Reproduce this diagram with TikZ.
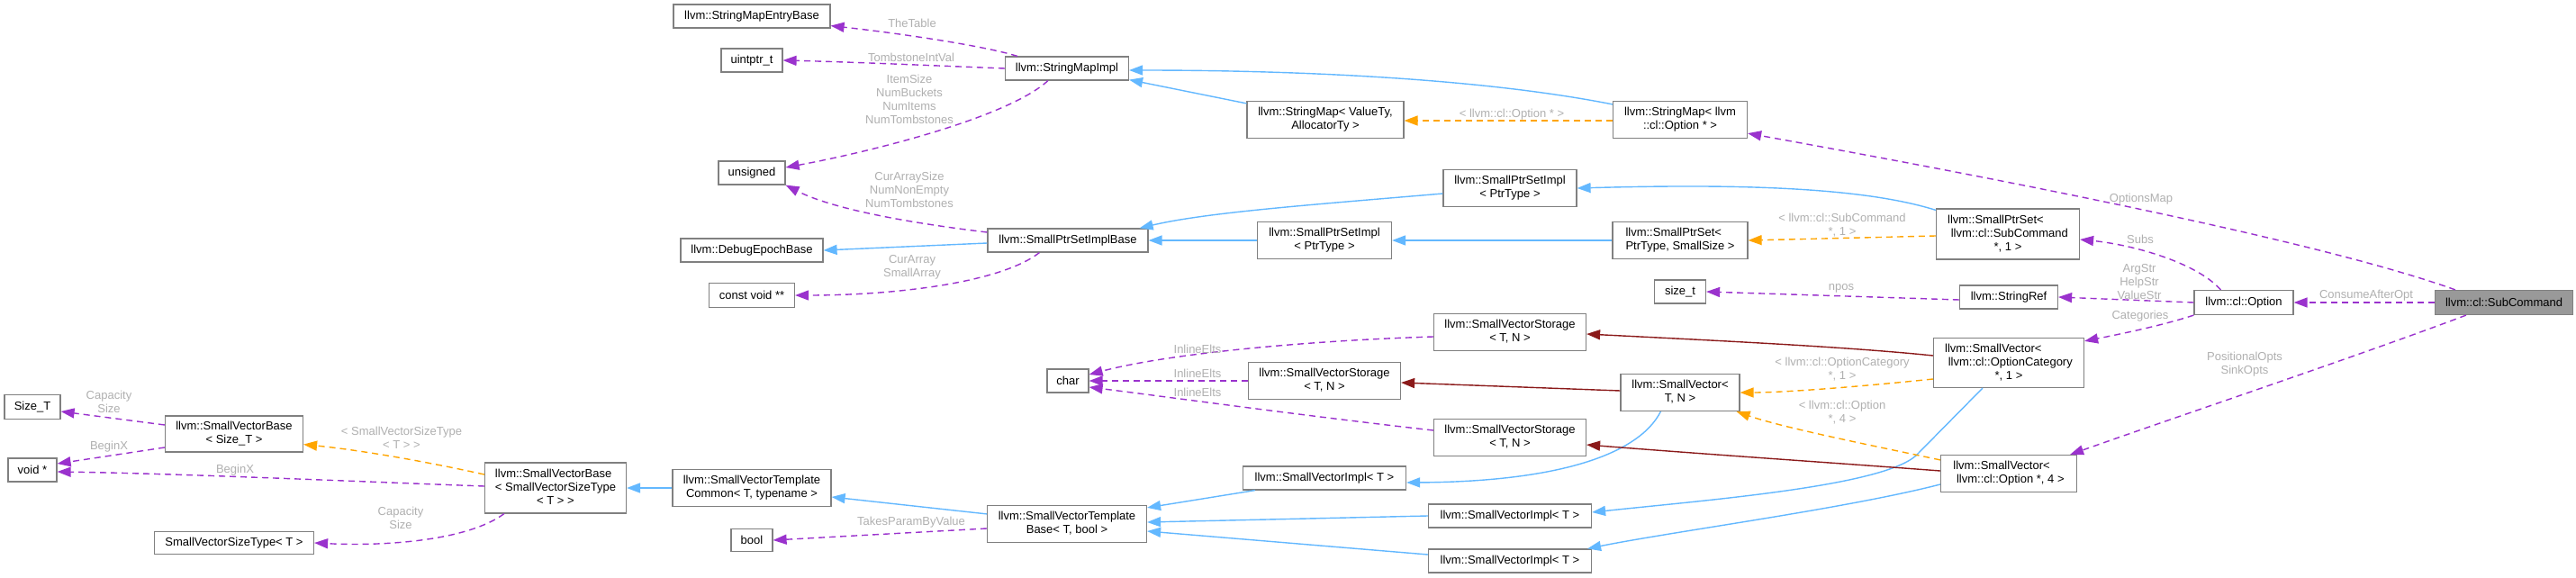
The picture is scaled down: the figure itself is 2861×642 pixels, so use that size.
\documentclass[tikz,border=0pt]{standalone}
\usepackage{fontspec}
\setmainfont{Liberation Sans}
\usetikzlibrary{arrows.meta,calc}
\definecolor{usec}{HTML}{9A32CD}
\definecolor{inhc}{HTML}{63B8FF}
\definecolor{tmplc}{HTML}{FFA500}
\definecolor{protc}{HTML}{8B1A1A}
\definecolor{labc}{HTML}{B0B0B0}
\definecolor{bordc}{HTML}{808080}
\definecolor{rootc}{HTML}{999999}
\newcommand\twol[2]{\begin{tabular}{@{}l@{}}#1\\\multicolumn{1}{@{}c@{}}{#2}\end{tabular}}
\newcommand\threel[3]{\begin{tabular}{@{}l@{}}#1\\#2\\\multicolumn{1}{@{}c@{}}{#3}\end{tabular}}
\tikzset{
  box/.style={draw=bordc, fill=white, line width=1.2pt, inner sep=0pt, font=\fontsize{13}{15}\selectfont, align=center},
  lab/.style={text=labc, font=\fontsize{13}{15}\selectfont, align=center, inner sep=0pt},
  tipx/.style={-{Triangle[length=15pt,width=11pt]}},
  use/.style={draw=usec, line width=1.4pt, dash pattern=on 7pt off 5pt, tipx},
  inh/.style={draw=inhc, line width=1.4pt, tipx},
  tmpl/.style={draw=tmplc, line width=1.4pt, dash pattern=on 7pt off 5pt, tipx},
  prot/.style={draw=protc, line width=1.4pt, tipx},
}
\begin{document}
\begin{tikzpicture}[x=1pt, y=-1pt]
\fill[white] (0,0) rectangle (2861,642);
\useasboundingbox (0,0) rectangle (2861,642);
% nodes
\node[box, minimum width=174pt, minimum height=26pt] (smeb) at (835,18) {llvm::StringMapEntryBase};
\node[box, minimum width=68pt, minimum height=26pt] (uptr) at (835,67) {uintptr\_t};
\node[box, minimum width=74pt, minimum height=26pt] (uns) at (835,192) {unsigned};
\node[box, minimum width=158pt, minimum height=26pt] (deb) at (835,278) {llvm::DebugEpochBase};
\node[box, minimum width=95pt, minimum height=27pt] (cvp) at (835,328) {const void **};
\node[box, minimum width=176pt, minimum height=41pt] (svtc) at (835,542) {\twol{llvm::SmallVectorTemplate}{Common< T, typename >}};
\node[box, minimum width=46pt, minimum height=25pt] (bool) at (835,600) {bool};
\node[box, minimum width=137pt, minimum height=26pt] (smi) at (1185,76) {llvm::StringMapImpl};
\node[box, minimum width=178pt, minimum height=26pt] (spsib) at (1186,267) {llvm::SmallPtrSetImplBase};
\node[box, minimum width=46pt, minimum height=26pt] (chr) at (1186,423) {char};
\node[box, minimum width=177pt, minimum height=41pt] (svtb) at (1185,582) {\twol{llvm::SmallVectorTemplate}{Base< T, bool >}};
\node[box, minimum width=174pt, minimum height=41pt] (smva) at (1472,133) {\twol{llvm::StringMap< ValueTy,}{AllocatorTy >}};
\node[box, minimum width=149pt, minimum height=41pt] (spsim) at (1471,267) {\twol{llvm::SmallPtrSetImpl}{< PtrType >}};
\node[box, minimum width=169pt, minimum height=41pt] (svsm) at (1471,423) {\twol{llvm::SmallVectorStorage}{< T, N >}};
\node[box, minimum width=181pt, minimum height=26pt] (svit) at (1471,531) {llvm::SmallVectorImpl< T >};
\node[box, minimum width=148pt, minimum height=41pt] (spsit) at (1677,209) {\twol{llvm::SmallPtrSetImpl}{< PtrType >}};
\node[box, minimum width=169pt, minimum height=41pt] (svst) at (1677,369) {\twol{llvm::SmallVectorStorage}{< T, N >}};
\node[box, minimum width=169pt, minimum height=41pt] (svsb) at (1677,486) {\twol{llvm::SmallVectorStorage}{< T, N >}};
\node[box, minimum width=181pt, minimum height=26pt] (svim) at (1677,573) {llvm::SmallVectorImpl< T >};
\node[box, minimum width=181pt, minimum height=26pt] (svib) at (1677,623) {llvm::SmallVectorImpl< T >};
\node[box, minimum width=149pt, minimum height=41pt] (smopt) at (1866,133) {\twol{llvm::StringMap< llvm}{::cl::Option * >}};
\node[box, minimum width=150pt, minimum height=41pt] (spsps) at (1866,267) {\twol{llvm::SmallPtrSet<}{PtrType, SmallSize >}};
\node[box, minimum width=57pt, minimum height=26pt] (sizet) at (1866,324) {size\_t};
\node[box, minimum width=132pt, minimum height=41pt] (svtn) at (1866,436) {\twol{llvm::SmallVector<}{T, N >}};
\node[box, minimum width=159pt, minimum height=56pt] (spssc) at (2230,260) {\threel{llvm::SmallPtrSet<}{\ llvm::cl::SubCommand}{*, 1 >}};
\node[box, minimum width=109pt, minimum height=26pt] (sref) at (2231,330) {llvm::StringRef};
\node[box, minimum width=167pt, minimum height=55pt] (svoc) at (2231,403) {\threel{llvm::SmallVector<}{\ llvm::cl::OptionCategory}{*, 1 >}};
\node[box, minimum width=151pt, minimum height=41pt] (svo4) at (2231,526) {\twol{llvm::SmallVector<}{\ llvm::cl::Option *, 4 >}};
\node[box, minimum width=110pt, minimum height=27pt] (opt) at (2492,336) {llvm::cl::Option};
\node[box, fill=rootc, minimum width=153pt, minimum height=27pt] (subc) at (2781,336) {llvm::cl::SubCommand};
\node[box, minimum width=62pt, minimum height=27pt] (sizeT) at (36,452) {Size\_T};
\node[box, minimum width=54pt, minimum height=26pt] (voidp) at (36,522) {void *};
\node[box, minimum width=153pt, minimum height=40pt] (svbs) at (260,482) {\twol{llvm::SmallVectorBase}{< Size\_T >}};
\node[box, minimum width=177pt, minimum height=25pt] (svstt) at (260,603) {SmallVectorSizeType< T >};
\node[box, minimum width=157pt, minimum height=56pt] (svbv) at (617,542) {\threel{llvm::SmallVectorBase}{< SmallVectorSizeType}{< T > >}};
% usage edges (purple)
\draw[use] ($(smi.north west)+(14,0)$) .. controls (1090,50) and (990,36) .. ($(smeb.south east)+(0,-3)$);
\draw[use] (smi.west) .. controls (1040,73) and (950,69) .. (uptr.east);
\draw[use] ($(smi.south west)+(48,0)$) .. controls (1120,130) and (970,168) .. ($(uns.east)+(0,-6)$);
\draw[use] ($(spsib.west)+(0,-9)$) .. controls (1030,250) and (930,235) .. (uns.south east);
\draw[use] ($(spsib.south west)+(58,0)$) .. controls (1110,315) and (990,328) .. (cvp.east);
\draw[use] ($(subc.north west)+(23,0)$) .. controls (2560,262) and (2150,186) .. ($(smopt.south east)+(0,-6)$);
\draw[use] ($(opt.north west)+(30,0)$) .. controls (2440,292) and (2370,272) .. ($(spssc.east)+(0,6)$);
\draw[use] (opt.west) -- (sref.east);
\draw[use] ($(sref.west)+(0,3)$) -- (sizet.east);
\draw[use] (subc.west) -- (opt.east);
\draw[use] (opt.south west) .. controls (2400,362) and (2350,372) .. ($(svoc.north east)+(0,4)$);
\draw[use] ($(subc.south west)+(35,0)$) .. controls (2620,395) and (2420,462) .. ($(svo4.north east)+(-8,0)$);
\draw[use] ($(svst.west)+(0,5)$) .. controls (1460,378) and (1300,392) .. ($(chr.east)+(0,-7)$);
\draw[use] (svsm.west) -- (chr.east);
\draw[use] ($(svsb.west)+(0,-8)$) .. controls (1450,462) and (1290,440) .. ($(chr.east)+(0,7)$);
\draw[use] ($(svbs.west)+(0,-10)$) -- ($(sizeT.east)+(0,5)$);
\draw[use] ($(svbs.west)+(0,15)$) -- ($(voidp.east)+(0,-7)$);
\draw[use] ($(svbv.west)+(0,-2)$) .. controls (400,535) and (200,526) .. ($(voidp.east)+(0,2)$);
\draw[use] ($(svbv.south west)+(22,0)$) .. controls (520,600) and (430,607) .. (svstt.east);
\draw[use] ($(svtb.west)+(0,5)$) -- (bool.east);
% inheritance edges (blue)
\draw[inh] ($(smva.north west)+(0,3)$) -- ($(smi.south east)+(0,-1)$);
\draw[inh] ($(smopt.north west)+(0,4)$) .. controls (1650,88) and (1450,78) .. ($(smi.east)+(0,2)$);
\draw[inh] ($(spsib.west)+(0,3)$) -- (deb.east);
\draw[inh] ($(spsit.west)+(0,6)$) .. controls (1450,228) and (1340,236) .. ($(spsib.north east)+(-10,0)$);
\draw[inh] (spsim.west) -- (spsib.east);
\draw[inh] (spsps.west) -- (spsim.east);
\draw[inh] ($(spssc.north west)+(0,2)$) .. controls (2060,205) and (1900,205) .. (spsit.east);
\draw[inh] (svtc.west) -- (svbv.east);
\draw[inh] ($(svtb.north west)+(0,10)$) -- ($(svtc.east)+(0,10)$);
\draw[inh] ($(svit.south west)+(14,0)$) -- ($(svtb.north east)+(0,3)$);
\draw[inh] (svim.west) -- ($(svtb.east)+(0,-2)$);
\draw[inh] ($(svib.west)+(0,-7)$) -- ($(svtb.east)+(0,8)$);
\draw[inh] ($(svtn.south west)+(45,0)$) .. controls (1820,505) and (1730,535) .. ($(svit.east)+(0,5)$);
\draw[inh] ($(svoc.south west)+(55,0)$) -- (2128,506) .. controls (2090,540) and (1900,555) .. ($(svim.east)+(0,-4)$);
\draw[inh] ($(svo4.west)+(0,12)$) .. controls (2050,565) and (1860,590) .. ($(svib.north east)+(-5,0)$);
% protected (dark red)
\draw[prot] ($(svoc.west)+(0,-8)$) .. controls (2050,385) and (1900,378) .. ($(svst.east)+(0,2)$);
\draw[prot] ($(svtn.west)+(0,-2)$) -- ($(svsm.east)+(0,2)$);
\draw[prot] ($(svo4.west)+(0,-3)$) .. controls (2050,515) and (1900,505) .. ($(svsb.east)+(0,8)$);
% template instances (orange)
\draw[tmpl] ($(smopt.west)+(0,1)$) -- ($(smva.east)+(0,1)$);
\draw[tmpl] ($(spssc.west)+(0,2)$) -- (spsps.east);
\draw[tmpl] ($(svoc.west)+(0,18)$) .. controls (2060,430) and (1980,436) .. (svtn.east);
\draw[tmpl] ($(svo4.north west)+(0,6)$) .. controls (2080,495) and (1980,475) .. ($(svtn.south east)+(-4,0)$);
\draw[tmpl] ($(svbv.west)+(0,-15)$) .. controls (470,512) and (400,500) .. ($(svbs.south east)+(0,-9)$);
% labels
\node[lab] (l1) at (1013,26) {TheTable};
\node[lab] (l2) at (1012,64) {TombstoneIntVal};
\node[lab] (l3) at (1010,110) {ItemSize\\NumBuckets\\NumItems\\NumTombstones};
\node[lab] (l4) at (1010,211) {CurArraySize\\NumNonEmpty\\NumTombstones};
\node[lab] (l5) at (1013,297) {CurArray\\SmallArray};
\node[lab] (l6) at (2378,221) {OptionsMap};
\node[lab] (l7) at (2377,266) {Subs};
\node[lab] (l8) at (2376,313) {ArgStr\\HelpStr\\ValueStr};
\node[lab] (l9) at (2045,320) {npos};
\node[lab] (l10) at (2628,328) {ConsumeAfterOpt};
\node[lab] (l11) at (2377,351) {Categories};
\node[lab] (l12) at (2493,405) {PositionalOpts\\SinkOpts};
\node[lab] (l13) at (1330,388) {InlineElts};
\node[lab] (l14) at (1330,415) {InlineElts};
\node[lab] (l15) at (1330,436) {InlineElts};
\node[lab] (l16) at (121,446) {Capacity\\Size};
\node[lab] (l17) at (121,496) {BeginX};
\node[lab] (l18) at (261,522) {BeginX};
\node[lab] (l19) at (445,575) {Capacity\\Size};
\node[lab] (l20) at (1012,580) {TakesParamByValue};
\node[lab] (l21) at (1679,127) {< llvm::cl::Option * >};
\node[lab] (l22) at (2046,250) {< llvm::cl::SubCommand\\ *, 1 >};
\node[lab] (l23) at (2046,410) {< llvm::cl::OptionCategory\\ *, 1 >};
\node[lab] (l24) at (2046,458) {< llvm::cl::Option\\ *, 4 >};
\node[lab] (l25) at (446,486) {< SmallVectorSizeType\\< T > >};
\end{tikzpicture}
\end{document}
